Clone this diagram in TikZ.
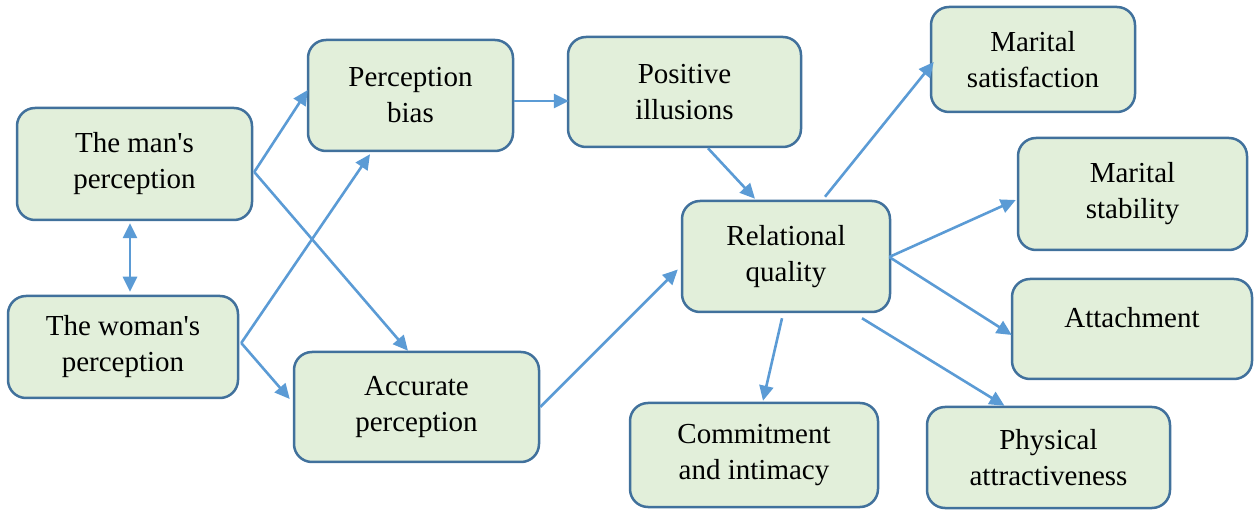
\documentclass[tikz,border=0pt]{standalone}
\usepackage{fontspec}
\setmainfont{Liberation Serif}
\usetikzlibrary{arrows.meta,calc}
\definecolor{boxfill}{RGB}{226,239,218}
\definecolor{boxline}{RGB}{65,113,156}
\definecolor{arrowc}{RGB}{91,155,213}
\tikzset{
  box/.style={draw=boxline, fill=boxfill, line width=2.5pt, rounded corners=18pt,
    align=center, inner sep=0pt, font=\fontsize{29}{36}\selectfont},
  plain/.style={align=center, inner sep=0pt, font=\fontsize{29}{36}\selectfont},
  conn/.style={draw=arrowc, line width=2.6pt, -{Triangle[length=15pt,width=14pt]}},
  bothconn/.style={draw=arrowc, line width=2.6pt, {Triangle[length=15pt,width=14pt]}-{Triangle[length=15pt,width=14pt]}}
}
\begin{document}
\begin{tikzpicture}[x=1pt,y=-1pt]
\useasboundingbox (0,0) rectangle (1259,510);
% boxes
\node[box, minimum width=235pt, minimum height=112pt] (man) at (134.5,164) {The man\textquotesingle s\\perception};
\node[box, minimum width=230pt, minimum height=102pt] (woman) at (123,347) {The woman\textquotesingle s\\perception};
\node[box, minimum width=205pt, minimum height=111pt] (bias) at (410.5,95.5) {Perception\\bias};
\node[box, minimum width=245pt, minimum height=110pt] (accurate) at (416.5,407) {Accurate\\perception};
\node[box, minimum width=233pt, minimum height=110pt] (positive) at (684.5,92) {Positive\\illusions};
\node[box, minimum width=208pt, minimum height=111pt] (relational) at (786,256.5) {Relational\\quality};
\node[box, minimum width=204pt, minimum height=105pt] (satisf) at (1033,59.5) {Marital\\satisfaction};
\node[box, minimum width=229pt, minimum height=112pt] (stability) at (1132.5,194) {Marital\\stability};
\node[box, minimum width=240pt, minimum height=100pt] (attach) at (1132,329) {};
\node[plain] (attachtxt) at (1132,318) {Attachment};
\node[box, minimum width=248pt, minimum height=104pt] (commit) at (754,455) {Commitment\\and intimacy};
\node[box, minimum width=243pt, minimum height=101pt] (physical) at (1048.5,457.5) {Physical\\attractiveness};
% connectors
\draw[bothconn] ($(man.south)+(-4.5,2)$) -- ($(woman.north)+(7,-3)$);
\draw[conn] ($(man.east)+(1,8)$) -- ($(bias.west)+(1,-5.5)$);
\draw[conn] ($(man.east)+(1,8)$) -- ($(accurate.north)+(-8.5,0)$);
\draw[conn] ($(woman.east)+(2,-4)$) -- ($(bias.south)+(-40.5,2)$);
\draw[conn] ($(woman.east)+(2,-4)$) -- ($(accurate.west)+(-3,-8)$);
\draw[conn] ($(bias.east)+(0,5.5)$) -- ($(positive.west)+(2,9)$);
\draw[conn] ($(positive.south)+(23.5,0)$) -- ($(relational.north)+(-31,-1)$);
\draw[conn] (accurate.east) -- ($(relational.west)+(-3,13)$);
\draw[conn] ($(relational.north)+(39,-3)$) -- ($(satisf.west)+(4,2.5)$);
\draw[conn] ($(relational.east)+(-2,0.5)$) -- ($(stability.west)+(-1,6)$);
\draw[conn] ($(relational.east)+(-2,0.5)$) -- ($(attach.west)+(1,6)$);
\draw[conn] ($(relational.south)+(-4,5)$) -- ($(commit.north)+(9,-1)$);
\draw[conn] ($(relational.south)+(76,5)$) -- ($(physical.north)+(-44,0)$);
\end{tikzpicture}
\end{document}
